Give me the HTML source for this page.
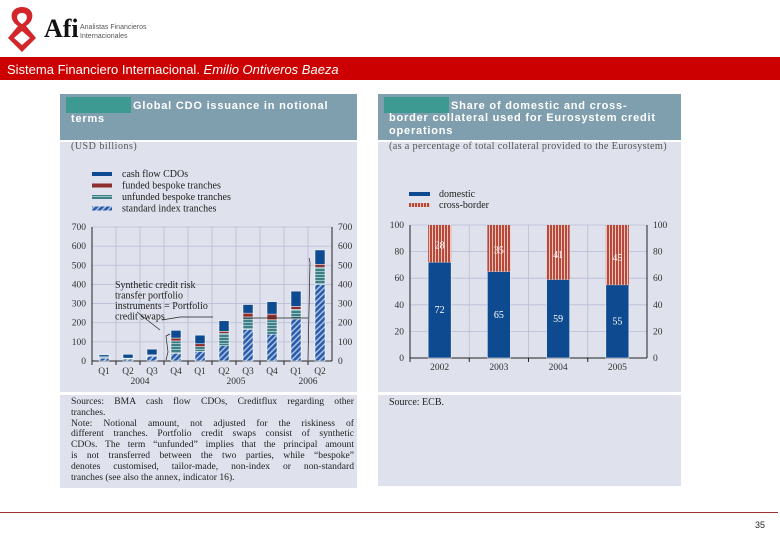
<!DOCTYPE html>
<html><head><meta charset="utf-8"><style>
body{margin:0;width:780px;height:540px;background:#fff;position:relative;overflow:hidden;font-family:"Liberation Sans",sans-serif}
.abs{position:absolute}
.panel{position:absolute;background:#dfe1ec}
.tbar{position:absolute;left:0;right:0;top:0;height:46px;background:#7f9fae}
.tbox{position:absolute;left:6px;top:3px;width:65px;height:16px;background:#3c9a92}
.ttl{position:absolute;color:#fff;font-family:"Liberation Sans",sans-serif;font-weight:bold;font-size:11px;letter-spacing:0.8px;line-height:12px;white-space:nowrap}
.serif{font-family:"Liberation Serif",serif}
.nl{white-space:nowrap;text-align:justify;text-align-last:justify;height:10.8px}
.nl.l{text-align-last:left}
</style></head><body>
<svg class="abs" style="left:4px;top:4px" width="36" height="50" viewBox="0 0 36 50">
<path d="M18 3 C6 3 4 16 14 22 L4 34 L18 48 L32 34 L22 22 C32 16 30 3 18 3 Z M18 9 C24 9 25 16 18 20 C11 16 12 9 18 9 Z M18 27 L26 34 L18 41 L10 34 Z" fill="#d3262b" fill-rule="evenodd"/></svg>
<div class="abs serif" style="left:44px;top:14px;font-size:26px;font-weight:bold;color:#111">Afi</div>
<div class="abs" style="left:80px;top:23px;font-size:7px;color:#555;line-height:9px">Analistas Financieros<br>Internacionales</div>
<div class="abs" style="left:0;top:57px;width:780px;height:23px;background:#cc0000"></div>
<div class="abs" style="left:7px;top:62px;font-size:13px;color:#fff">Sistema Financiero Internacional. <i>Emilio Ontiveros Baeza</i></div>

<div class="panel" style="left:60px;top:94px;width:297px;height:394px">
<div class="tbar"><div class="tbox"></div></div>
<div class="ttl" style="left:73px;top:6px">Global CDO issuance in notional</div>
<div class="ttl" style="left:11px;top:19px">terms</div>
<div class="abs" style="left:0;top:46px;width:297px;height:2px;background:#fff"></div>
<div class="abs serif" style="left:11px;top:47px;font-size:10px;color:#555;letter-spacing:.5px">(USD billions)</div>
<div class="abs" style="left:0;top:298px;width:297px;height:3px;background:#fff"></div>
<div class="abs serif" style="left:11px;top:303px;width:283px;font-size:9.6px;line-height:10.8px;color:#222">
<div class="nl">Sources: BMA cash flow CDOs, Creditflux regarding other</div>
<div class="nl l">tranches.</div>
<div class="nl">Note: Notional amount, not adjusted for the riskiness of</div>
<div class="nl">different tranches. Portfolio credit swaps consist of synthetic</div>
<div class="nl">CDOs. The term “unfunded” implies that the principal amount</div>
<div class="nl">is not transferred between the two parties, while “bespoke”</div>
<div class="nl">denotes customised, tailor-made, non-index or non-standard</div>
<div class="nl l">tranches (see also the annex, indicator 16).</div>
</div>
</div>

<div class="panel" style="left:378px;top:94px;width:303px;height:392px">
<div class="tbar"><div class="tbox"></div></div>
<div class="ttl" style="left:73px;top:6px">Share of domestic and cross-</div>
<div class="ttl" style="left:11px;top:18px">border collateral used for Eurosystem credit</div>
<div class="ttl" style="left:11px;top:31px">operations</div>
<div class="abs" style="left:0;top:46px;width:303px;height:2px;background:#fff"></div>
<div class="abs serif" style="left:11px;top:47px;font-size:10.3px;letter-spacing:0.3px;color:#555;white-space:nowrap">(as a percentage of total collateral provided to the Eurosystem)</div>
<div class="abs" style="left:0;top:298px;width:303px;height:3px;background:#fff"></div>
<div class="abs serif" style="left:11px;top:303px;font-size:10px;color:#222">Source: ECB.</div>
</div>

<svg id="c" class="abs" style="left:0;top:0" width="780" height="540">
<defs>
<pattern id="hatch" width="4" height="4" patternUnits="userSpaceOnUse" patternTransform="rotate(45)"><rect width="4" height="4" fill="#2a5aa8"/><rect width="1.5" height="4" fill="#a9c4e4"/></pattern>
<pattern id="horiz" width="4" height="3" patternUnits="userSpaceOnUse"><rect width="4" height="3" fill="#3f7f86"/><rect width="4" height="1" y="1" fill="#9cc0c4"/></pattern>
<pattern id="vert" width="3" height="4" patternUnits="userSpaceOnUse"><rect width="3" height="4" fill="#b4493c"/><rect width="1" height="4" fill="#efc3b8"/></pattern>
</defs>
<g id="left" font-family="Liberation Serif, serif" font-size="9.5" fill="#333"></g>
<g id="right" font-family="Liberation Serif, serif" font-size="9.5" fill="#333"></g>
</svg>

<div class="abs" style="left:0;top:512px;width:778px;height:1px;background:#9b3030"></div>
<div class="abs" style="left:755px;top:520px;font-size:9px;color:#222">35</div>

<script>
const cdoQuarters=["Q1","Q2","Q3","Q4","Q1","Q2","Q3","Q4","Q1","Q2"];
const cdoYears=["2004","2005","2006"];
const cdoStandard=[15,10,25,40,50,80,165,140,220,400];
const cdoUnfunded=[5,3,5,65,25,65,65,75,50,90];
const cdoFunded=[2,2,2,15,15,10,20,30,15,15];
const cdoCash=[10,20,30,40,45,55,45,65,80,75];
const cdoTicks=[0,100,200,300,400,500,600,700];
const colYears=["2002","2003","2004","2005"];
const colDomestic=[72,65,59,55];
const colCross=[28,35,41,45];
const colTicks=[0,20,40,60,80,100];

const NS="http://www.w3.org/2000/svg";
function mk(p,t,a){const e=document.createElementNS(NS,t);for(const k in a)e.setAttribute(k,a[k]);p.appendChild(e);return e;}

const L=document.getElementById('left');
const lx0=92,lx1=332,ly0=361,ly1=227,lmax=700;
const ly=v=>ly0-(v/lmax)*(ly0-ly1);
const cw=(lx1-lx0)/cdoQuarters.length;
const lxc=i=>lx0+cw*(i+0.5);
cdoTicks.forEach(t=>{
  if(t>0){const g=mk(L,'line',{x1:lx0,x2:lx1,y1:ly(t),y2:ly(t),stroke:'#b9bdd6','stroke-width':0.8});}
  const a=mk(L,'text',{x:lx0-6,y:ly(t)+3,'text-anchor':'end'});a.textContent=t;
  const b=mk(L,'text',{x:lx1+6,y:ly(t)+3});b.textContent=t;
});
for(let i=1;i<cdoQuarters.length;i++){const v=mk(L,'line',{x1:lx0+cw*i,x2:lx0+cw*i,y1:ly1,y2:ly0,stroke:'#b9bdd6','stroke-width':0.8});}
mk(L,'line',{x1:lx0,x2:lx0,y1:ly1,y2:ly0,stroke:'#222'});
mk(L,'line',{x1:lx1,x2:lx1,y1:ly1,y2:ly0,stroke:'#222'});
mk(L,'line',{x1:lx0,x2:lx1,y1:ly0,y2:ly0,stroke:'#222'});
const series=[[cdoStandard,'url(#hatch)','standard'],[cdoUnfunded,'url(#horiz)','unfunded'],[cdoFunded,'#8e2f2f','funded'],[cdoCash,'#0d4a8f','cash']];
cdoQuarters.forEach((q,i)=>{
  let acc=0;
  series.forEach(s=>{
    const v=s[0][i];
    const r=mk(L,'rect',{x:lxc(i)-5,y:ly(acc+v),width:10,height:ly(acc)-ly(acc+v),fill:s[1],stroke:'#fff','stroke-width':0.5});
    
    
    acc+=v;
  });
  const t=mk(L,'text',{x:lxc(i),y:ly0+13,'text-anchor':'middle'});t.textContent=q;
  
  mk(L,'line',{x1:lx0+cw*i,x2:lx0+cw*i,y1:ly0,y2:ly0+4,stroke:'#222'});
});
[[1.5,0],[5.5,1],[8.5,2]].forEach(p=>{const t=mk(L,'text',{x:lx0+cw*(p[0]+0.5),y:ly0+23,'text-anchor':'middle'});t.textContent=cdoYears[p[1]];});
const lg=[['#0d4a8f','cash flow CDOs'],['#8e2f2f','funded bespoke tranches'],['url(#horiz)','unfunded bespoke tranches'],['url(#hatch)','standard index tranches']];
lg.forEach((e,i)=>{const r=mk(L,'rect',{x:92,y:172+i*11.5,width:20,height:4,fill:e[0]});
 const t=mk(L,'text',{x:122,y:177+i*11.5,'font-size':10,fill:'#222'});t.textContent=e[1];});
const ann=['Synthetic credit risk','transfer portfolio','instruments = Portfolio','credit swaps'];
ann.forEach((s,i)=>{const t=mk(L,'text',{x:115,y:288+i*10.5,'font-size':10,fill:'#222'});t.textContent=s;});
mk(L,'path',{d:'M137 312 L160 330 M162 320 L180 317 L213 317 M243 318 L308 318 L306 318',stroke:'#222',fill:'none','stroke-width':0.7});
mk(L,'path',{d:'M170 334 L166 336 L168 352 L166 360 M309 258 L310 262 L308 360',stroke:'#222',fill:'none','stroke-width':0.7});

const R=document.getElementById('right');
const rx0=410,rx1=647,ry0=358,ry1=225;
const ry=v=>ry0-(v/100)*(ry0-ry1);
const rw=(rx1-rx0)/colYears.length;
const rxc=i=>rx0+rw*(i+0.5);
colTicks.forEach(t=>{
  if(t>0){const g=mk(R,'line',{x1:rx0,x2:rx1,y1:ry(t),y2:ry(t),stroke:'#b9bdd6','stroke-width':0.8});}
  const a=mk(R,'text',{x:rx0-6,y:ry(t)+3,'text-anchor':'end'});a.textContent=t;
  const b=mk(R,'text',{x:rx1+6,y:ry(t)+3});b.textContent=t;
});
for(let i=1;i<colYears.length;i++)mk(R,'line',{x1:rx0+rw*i,x2:rx0+rw*i,y1:ry1,y2:ry0,stroke:'#b9bdd6','stroke-width':0.8});
mk(R,'line',{x1:rx0,x2:rx0,y1:ry1,y2:ry0,stroke:'#222'});
mk(R,'line',{x1:rx1,x2:rx1,y1:ry1,y2:ry0,stroke:'#222'});
mk(R,'line',{x1:rx0,x2:rx1,y1:ry0,y2:ry0,stroke:'#222'});
colYears.forEach((y,i)=>{
  const d=colDomestic[i],c=colCross[i];
  const a=mk(R,'rect',{x:rxc(i)-11.5,y:ry(d),width:23,height:ry(0)-ry(d),fill:'#0d4a8f',stroke:'#fff','stroke-width':0.5});
  
  const b=mk(R,'rect',{x:rxc(i)-11.5,y:ry(d+c),width:23,height:ry(d)-ry(d+c),fill:'url(#vert)'});
  
  const t1=mk(R,'text',{x:rxc(i),y:ry(d/2)+3,'text-anchor':'middle',fill:'#fff','font-size':10});t1.textContent=d;
  
  const t2=mk(R,'text',{x:rxc(i),y:ry(d+c*0.45)+3,'text-anchor':'middle',fill:'#fff','font-size':10});t2.textContent=c;
  
  const t=mk(R,'text',{x:rxc(i),y:ry0+12,'text-anchor':'middle'});t.textContent=y;
  
  mk(R,'line',{x1:rx0+rw*i,x2:rx0+rw*i,y1:ry0,y2:ry0+4,stroke:'#222'});
});
[['#0d4a8f','domestic'],['url(#vert)','cross-border']].forEach((e,i)=>{const r=mk(R,'rect',{x:409,y:192+i*11,width:21,height:4,fill:e[0]});
 const t=mk(R,'text',{x:439,y:197+i*11,'font-size':10,fill:'#222'});t.textContent=e[1];});
</script>
</body></html>
